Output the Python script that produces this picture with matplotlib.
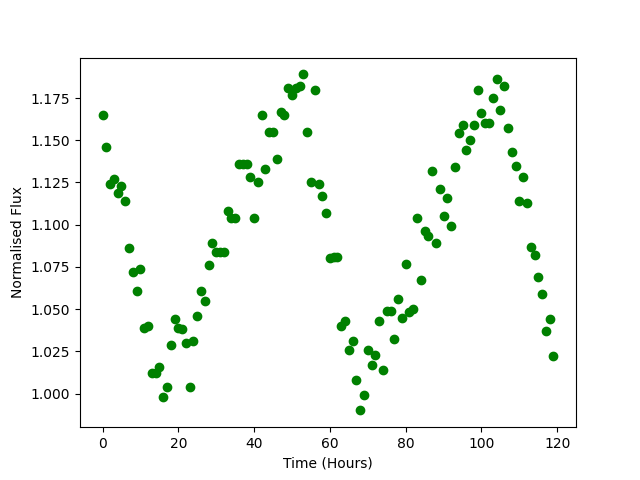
import numpy as np
import matplotlib
matplotlib.use("Agg")
import matplotlib.pyplot as plt

# hourly samples, 0..119
hours = np.arange(120)

flux = [
    1.165, 1.146, 1.124, 1.127, 1.119, 1.123, 1.114, 1.086, 1.072, 1.061,
    1.074, 1.039, 1.040, 1.012, 1.012, 1.016, 0.998, 1.004, 1.029, 1.044,
    1.039, 1.038, 1.030, 1.004, 1.031, 1.046, 1.061, 1.055, 1.076, 1.089,
    1.084, 1.084, 1.084, 1.108, 1.104, 1.104, 1.136, 1.136, 1.136, 1.128,
    1.104, 1.125, 1.165, 1.133, 1.155, 1.155, 1.139, 1.167, 1.165, 1.181,
    1.177, 1.181, 1.182, 1.189, 1.155, 1.125, 1.180, 1.124, 1.117, 1.107,
    1.080, 1.081, 1.081, 1.040, 1.043, 1.026, 1.031, 1.008, 0.990, 0.999,
    1.026, 1.017, 1.023, 1.043, 1.014, 1.049, 1.049, 1.032, 1.056, 1.045,
    1.077, 1.048, 1.050, 1.104, 1.067, 1.096, 1.093, 1.132, 1.089, 1.121,
    1.105, 1.116, 1.099, 1.134, 1.154, 1.159, 1.144, 1.150, 1.159, 1.180,
    1.166, 1.160, 1.160, 1.175, 1.186, 1.168, 1.182, 1.157, 1.143, 1.135,
    1.114, 1.128, 1.113, 1.087, 1.082, 1.069, 1.059, 1.037, 1.044, 1.022,
]

fig, ax = plt.subplots(figsize=(6.4, 4.8), dpi=100)
ax.scatter(hours, flux, color="g")
ax.set_xlabel("Time (Hours)")
ax.set_ylabel("Normalised Flux")

fig.savefig("out.png")
